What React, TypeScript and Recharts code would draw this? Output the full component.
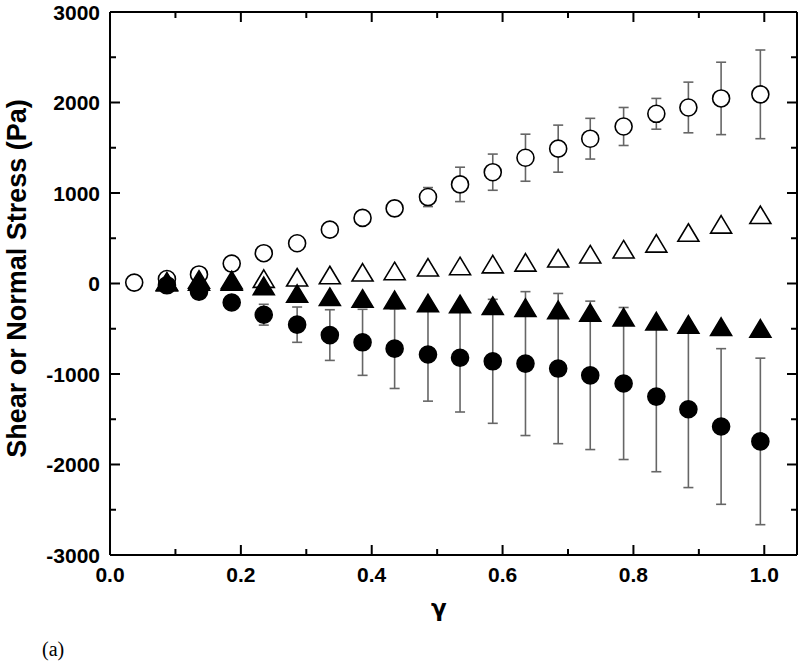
import React from "react";
import { ScatterChart, Scatter, XAxis, YAxis, ErrorBar, ReferenceLine } from "recharts";

// strain values (shared by all series)
const gamma = [
  0.037, 0.087, 0.136, 0.186, 0.235, 0.286, 0.336, 0.386, 0.435, 0.486,
  0.535, 0.585, 0.635, 0.685, 0.734, 0.785, 0.835, 0.884, 0.934, 0.994,
];

// open circles (start at gamma[0])
const openCircleY = [
  10, 50, 100, 220, 335, 445, 595, 725, 830, 955,
  1095, 1230, 1390, 1490, 1600, 1735, 1875, 1945, 2045, 2090,
];
const openCircleErr = [
  20, 30, 40, 50, 50, 50, 40, 60, 80, 105,
  190, 200, 260, 260, 225, 210, 170, 280, 400, 490,
];

// the other three series start at gamma[1]
const openTriangleY = [
  10, 30, 25, 40, 55, 80, 110, 125, 165,
  180, 200, 220, 265, 310, 365, 430, 550, 640, 745,
];
const filledTriangleY = [
  0, 10, 10, -40, -125, -160, -180, -195, -230,
  -240, -260, -280, -305, -335, -385, -430, -465, -490, -510,
];
const filledCircleY = [
  -20, -90, -210, -345, -455, -570, -650, -720, -785,
  -820, -860, -885, -940, -1015, -1105, -1250, -1390, -1580, -1745,
];
const filledCircleErr = [
  0, 20, 20, 115, 195, 280, 365, 440, 515,
  600, 685, 795, 830, 820, 840, 830, 865, 860, 920,
];

const xTicks = [0, 0.2, 0.4, 0.6, 0.8, 1.0];
const xMinorTicks = [0.1, 0.3, 0.5, 0.7, 0.9];
const yTicks = [-3000, -2000, -1000, 0, 1000, 2000, 3000];
const yMinorTicks = [-2500, -1500, -500, 500, 1500, 2500];

const openCircles = gamma.map((x, i) => ({ x, y: openCircleY[i], err: openCircleErr[i] }));
const openTriangles = openTriangleY.map((y, i) => ({ x: gamma[i + 1], y }));
const filledTriangles = filledTriangleY.map((y, i) => ({ x: gamma[i + 1], y }));
const filledCircles = filledCircleY.map((y, i) => ({ x: gamma[i + 1], y, err: filledCircleErr[i] }));

const X_DOMAIN = [0, 1.05];
const Y_DOMAIN = [-3000, 3000];

const W = 800;
const H = 661;
const MARGIN = { top: 12, right: 3, bottom: 106, left: 110 };
const PLOT_W = W - MARGIN.left - MARGIN.right;
const PLOT_H = H - MARGIN.top - MARGIN.bottom;
const X_GAP = 12;
const Y_GAP = 10;

const FONT = "'Liberation Sans', Arial, sans-serif";
const tickFont = { fill: "#000", fontSize: 21, fontWeight: 700, fontFamily: FONT };
const TICK_STROKE = { stroke: "#000", strokeWidth: 2 };

// bottom tick: inward tick at the bottom and a mirrored one on top, label for majors
const XTick = (p: any) => {
  const v = p.payload.value;
  const major = xTicks.includes(v);
  const len = major ? 10 : 6;
  const y0 = Number(p.y) - X_GAP;
  return (
    <g>
      <line x1={p.x} x2={p.x} y1={y0} y2={y0 - len} {...TICK_STROKE} />
      <line x1={p.x} x2={p.x} y1={y0 - PLOT_H} y2={y0 - PLOT_H + len} {...TICK_STROKE} />
      {major && (
        <text x={p.x} y={p.y} dy="0.72em" textAnchor="middle" {...tickFont}>
          {v.toFixed(1)}
        </text>
      )}
    </g>
  );
};

// left tick: inward tick on the left and a mirrored one on the right
const YTick = (p: any) => {
  const v = p.payload.value;
  const major = yTicks.includes(v);
  const len = major ? 10 : 6;
  const x0 = Number(p.x) + Y_GAP;
  return (
    <g>
      <line x1={x0} x2={x0 + len} y1={p.y} y2={p.y} {...TICK_STROKE} />
      <line x1={x0 + PLOT_W} x2={x0 + PLOT_W - len} y1={p.y} y2={p.y} {...TICK_STROKE} />
      {major && (
        <text x={p.x} y={p.y} dy="0.36em" textAnchor="end" {...tickFont}>
          {v}
        </text>
      )}
    </g>
  );
};

const CircleShape = (filled: boolean) => (p: any) =>
  <circle cx={p.cx} cy={p.cy} r={8.5} fill={filled ? "#000" : "#fff"} stroke="#000" strokeWidth={1.6} />;

const TriangleShape = (filled: boolean) => (p: any) => (
  <path
    d={`M${p.cx},${p.cy - 10} L${p.cx + 10.5},${p.cy + 7.5} L${p.cx - 10.5},${p.cy + 7.5} Z`}
    fill={filled ? "#000" : "#fff"}
    stroke="#000"
    strokeWidth={1.6}
  />
);

export default function App() {
  return (
    <div style={{ position: "absolute", left: 0, top: 0, width: W, height: H, background: "#fff" }}>
      <ScatterChart width={W} height={H} margin={MARGIN}>
        <XAxis
          type="number"
          dataKey="x"
          domain={X_DOMAIN}
          allowDataOverflow
          ticks={[...xTicks, ...xMinorTicks].sort((a, b) => a - b)}
          interval={0}
          height={0.01}
          tickSize={0}
          tickMargin={X_GAP}
          tickLine={false}
          tick={XTick}
          axisLine={{ stroke: "#000", strokeWidth: 2 }}
        />
        <YAxis
          type="number"
          dataKey="y"
          domain={Y_DOMAIN}
          allowDataOverflow
          ticks={[...yTicks, ...yMinorTicks].sort((a, b) => a - b)}
          interval={0}
          width={0.01}
          tickSize={0}
          tickMargin={Y_GAP}
          tickLine={false}
          tick={YTick}
          axisLine={{ stroke: "#000", strokeWidth: 2 }}
          label={{
            value: "Shear or Normal Stress (Pa)",
            angle: -90,
            position: "left",
            offset: 94,
            dy: -5,
            style: { textAnchor: "middle", fontSize: 27, fontWeight: 700, fontFamily: FONT, fill: "#000" },
          }}
        />
        {/* top and right sides of the frame */}
        <ReferenceLine y={Y_DOMAIN[1]} stroke="#000" strokeWidth={2} ifOverflow="visible" />
        <ReferenceLine x={X_DOMAIN[1]} stroke="#000" strokeWidth={2} ifOverflow="visible" />

        <Scatter data={openCircles} shape={CircleShape(false)} isAnimationActive={false}>
          <ErrorBar dataKey="err" direction="y" width={5} stroke="#666" strokeWidth={1.6} />
        </Scatter>
        <Scatter data={openTriangles} shape={TriangleShape(false)} isAnimationActive={false} />
        <Scatter data={filledCircles} shape={CircleShape(true)} isAnimationActive={false}>
          <ErrorBar dataKey="err" direction="y" width={5} stroke="#666" strokeWidth={1.6} />
        </Scatter>
        <Scatter data={filledTriangles} shape={TriangleShape(true)} isAnimationActive={false} />
      </ScatterChart>
      <div
        style={{
          position: "absolute", left: 431, top: 597, fontSize: 23, lineHeight: "23px",
          fontWeight: 700, fontFamily: "'DejaVu Sans', sans-serif", color: "#000",
        }}
      >
        γ
      </div>
      <div
        style={{
          position: "absolute", left: 42, top: 639, fontSize: 20, lineHeight: "20px",
          fontFamily: "'Liberation Serif', 'Times New Roman', serif", color: "#000",
        }}
      >
        (a)
      </div>
    </div>
  );
}
